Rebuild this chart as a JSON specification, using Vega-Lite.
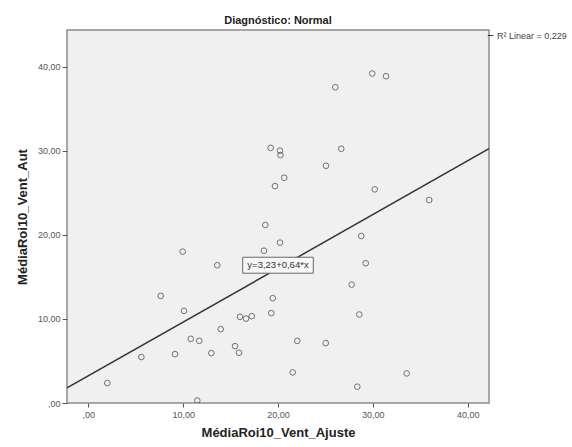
{
  "$schema": "https://vega.github.io/schema/vega-lite/v6.json",
  "width": 422,
  "height": 373,
  "autosize": {"type": "none"},
  "padding": {"left": 67, "top": 30, "right": 83, "bottom": 44},
  "background": "white",
  "config": {
    "font": "Liberation Sans",
    "view": {"fill": "#f0f0f0", "stroke": "#8c8c8c", "strokeWidth": 1.5},
    "axis": {"grid": false, "domain": false, "tickColor": "#555555", "labelColor": "#555555", "labelFontSize": 9, "titleColor": "#222222", "titleFontSize": 13, "titleFontWeight": "bold"}
  },
  "title": {"text": "Diagnóstico: Normal", "fontSize": 11, "fontWeight": "bold", "color": "#222222", "offset": 4},
  "datasets": {
    "pts": [
      {"x": 19.23, "y": 30.37}, {"x": 20.21, "y": 30.04}, {"x": 20.26, "y": 29.51}, {"x": 20.66, "y": 26.81},
      {"x": 19.68, "y": 25.82}, {"x": 29.94, "y": 39.22}, {"x": 31.39, "y": 38.9}, {"x": 26.04, "y": 37.59},
      {"x": 26.67, "y": 30.26}, {"x": 25.06, "y": 28.24}, {"x": 30.2, "y": 25.43}, {"x": 35.95, "y": 24.16},
      {"x": 18.66, "y": 21.19}, {"x": 20.21, "y": 19.09}, {"x": 18.52, "y": 18.13}, {"x": 9.95, "y": 18.02},
      {"x": 13.6, "y": 16.4}, {"x": 19.44, "y": 12.48}, {"x": 7.63, "y": 12.75}, {"x": 10.09, "y": 10.97},
      {"x": 19.29, "y": 10.7}, {"x": 15.99, "y": 10.26}, {"x": 16.63, "y": 10.05}, {"x": 17.23, "y": 10.34},
      {"x": 13.96, "y": 8.79}, {"x": 10.8, "y": 7.64}, {"x": 11.7, "y": 7.4}, {"x": 22.03, "y": 7.4},
      {"x": 15.47, "y": 6.77}, {"x": 15.89, "y": 5.98}, {"x": 12.97, "y": 5.94}, {"x": 9.14, "y": 5.82},
      {"x": 5.59, "y": 5.47}, {"x": 21.55, "y": 3.64}, {"x": 2.0, "y": 2.38}, {"x": 11.49, "y": 0.3},
      {"x": 28.78, "y": 19.88}, {"x": 29.25, "y": 16.64}, {"x": 27.77, "y": 14.09}, {"x": 28.57, "y": 10.53},
      {"x": 25.03, "y": 7.13}, {"x": 33.57, "y": 3.52}, {"x": 28.36, "y": 1.94}
    ],
    "fit": [
      {"x": -2.25, "y": 1.79, "series": "R² Linear = 0,229"},
      {"x": 42.25, "y": 30.27, "series": "R² Linear = 0,229"}
    ],
    "lbl": [
      {"x1": 16.28, "x2": 23.72, "y1": 15.45, "y2": 17.35, "xc": 20.0, "yc": 16.4, "text": "y=3,23+0,64*x"}
    ]
  },
  "layer": [
    {
      "data": {"name": "fit"},
      "mark": {"type": "line", "strokeWidth": 1.5, "clip": true},
      "encoding": {
        "x": {"field": "x", "type": "quantitative", "scale": {"domain": [-2.25, 42.25], "nice": false, "zero": false},
          "axis": {"values": [0, 10, 20, 30, 40], "tickSize": 4, "labelPadding": 3, "titlePadding": 7,
            "labelExpr": "datum.value == 0 ? ',00' : replace(format(datum.value, '.2f'), '.', ',')",
            "title": "MédiaRoi10_Vent_Ajuste"}},
        "y": {"field": "y", "type": "quantitative", "scale": {"domain": [0, 44.4], "nice": false, "zero": false},
          "axis": {"values": [0, 10, 20, 30, 40], "tickSize": 5, "labelPadding": 2, "titlePadding": 8,
            "labelExpr": "datum.value == 0 ? ',00' : replace(format(datum.value, '.2f'), '.', ',')",
            "title": "MédiaRoi10_Vent_Aut"}},
        "stroke": {"field": "series", "type": "nominal", "scale": {"range": ["#333333"]},
          "legend": {"title": null, "orient": "none", "legendX": 419, "legendY": 1, "symbolType": "stroke",
            "symbolSize": 30, "symbolStrokeWidth": 1, "labelFontSize": 9, "labelColor": "#444444", "labelOffset": 2, "padding": 0}}
      }
    },
    {
      "data": {"name": "pts"},
      "mark": {"type": "point", "filled": false, "shape": "circle", "size": 32, "stroke": "#3c3c3c", "strokeWidth": 1, "clip": true},
      "encoding": {
        "x": {"field": "x", "type": "quantitative"},
        "y": {"field": "y", "type": "quantitative"}
      }
    },
    {
      "data": {"name": "lbl"},
      "mark": {"type": "rect", "fill": "#f8f8f8", "stroke": "#666666", "strokeWidth": 1},
      "encoding": {
        "x": {"field": "x1", "type": "quantitative"},
        "x2": {"field": "x2"},
        "y": {"field": "y1", "type": "quantitative"},
        "y2": {"field": "y2"}
      }
    },
    {
      "data": {"name": "lbl"},
      "mark": {"type": "text", "fontSize": 9.5, "color": "#333333", "align": "center", "baseline": "middle"},
      "encoding": {
        "x": {"field": "xc", "type": "quantitative"},
        "y": {"field": "yc", "type": "quantitative"},
        "text": {"field": "text"}
      }
    }
  ]
}
